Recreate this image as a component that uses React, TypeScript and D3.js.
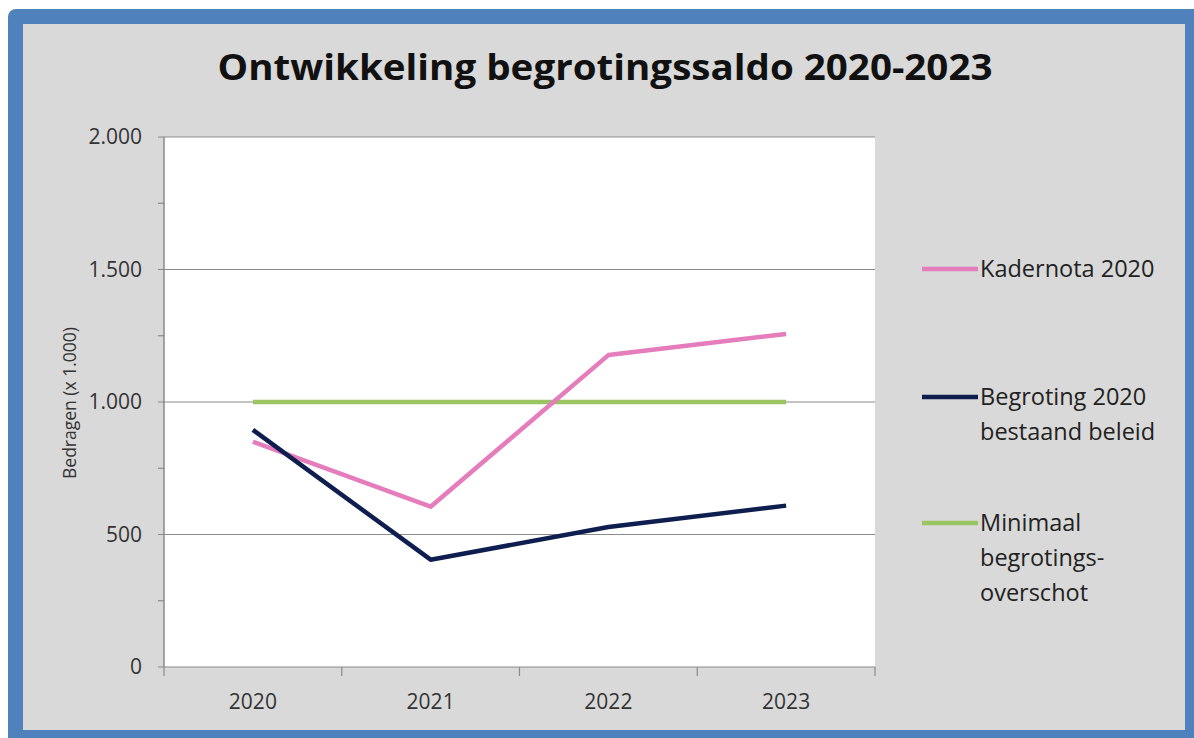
import React from "react";
import * as d3 from "d3";

const years = ["2020", "2021", "2022", "2023"];
const kadernota = [850, 605, 1177, 1257];
const begroting = [895, 405, 528, 609];
const minimaal = [1000, 1000, 1000, 1000];
const yTicks = [0, 500, 1000, 1500, 2000];
const yMinorTicks = [250, 750, 1250, 1750];
const seriesNames = [["Kadernota 2020"], ["Begroting 2020", "bestaand beleid"], ["Minimaal", "begrotings-", "overschot"]];
const seriesColors = ["#E57CBB", "#0E1E4E", "#9BC562"];
const title = "Ontwikkeling begrotingssaldo 2020-2023";
const yTitle = "Bedragen (x 1.000)";

const W = 1194, H = 738;
const plot = { left: 164, right: 875, top: 137, bottom: 667 };
const FONT = "'Open Sans', 'Noto Sans', sans-serif";

export default function App() {
  const x = d3.scaleBand<string>().domain(years).range([plot.left, plot.right]);
  const y = d3.scaleLinear().domain([0, 2000]).range([plot.bottom, plot.top]);
  const fmt = (v: number) => d3.format(",")(v).replace(/,/g, ".");
  const line = d3
    .line<number>()
    .x((_, i) => (x(years[i]) as number) + x.bandwidth() / 2)
    .y((d) => y(d));
  const series = [kadernota, begroting, minimaal];
  const drawOrder = [2, 0, 1];
  const legendY = [269, 397, 523];
  const boundaries = [...years.map((yr) => x(yr) as number), plot.right];

  return (
    <svg width={W} height={H} style={{ position: "absolute", left: 0, top: 0, background: "#fff" }}>
      <rect x={8} y={9} width={W} height={H} rx={8} fill="#4F81BD" />
      <rect x={23} y={24} width={1185 - 23} height={730 - 24} fill="#D9D9D9" />
      <text x={605} y={80} textAnchor="middle" fontFamily={FONT} fontWeight="bold" fontSize={36} fill="#111"
        textLength={775} lengthAdjust="spacingAndGlyphs">
        {title}
      </text>
      <rect x={plot.left} y={plot.top} width={plot.right - plot.left} height={plot.bottom - plot.top} fill="#fff" />
      {yTicks.map((t) => (
        <g key={t}>
          <line x1={158} x2={plot.right} y1={y(t)} y2={y(t)} stroke="#8A8A8A" strokeWidth={1.2} />
          <text x={142} y={y(t)} dy="0.35em" textAnchor="end" fontFamily={FONT} fontSize={21} fill="#333">
            {fmt(t)}
          </text>
        </g>
      ))}
      {yMinorTicks.map((t) => (
        <line key={t} x1={158} x2={plot.left} y1={y(t)} y2={y(t)} stroke="#8A8A8A" strokeWidth={1.2} />
      ))}
      <line x1={plot.left} x2={plot.left} y1={plot.top} y2={plot.bottom} stroke="#8A8A8A" strokeWidth={1.5} />
      {boundaries.map((b, i) => (
        <line key={i} x1={b} x2={b} y1={plot.bottom} y2={plot.bottom + 9} stroke="#8A8A8A" strokeWidth={1.2} />
      ))}
      {years.map((yr) => (
        <text key={yr} x={(x(yr) as number) + x.bandwidth() / 2} y={709} textAnchor="middle" fontFamily={FONT} fontSize={21} fill="#333">
          {yr}
        </text>
      ))}
      <text transform={`translate(76,403) rotate(-90)`} textAnchor="middle" fontFamily={FONT} fontSize={17.5} fill="#333">
        {yTitle}
      </text>
      {drawOrder.map((si) => (
        <path key={si} d={line(series[si]) as string} fill="none" stroke={seriesColors[si]} strokeWidth={4.5} strokeLinejoin="round" />
      ))}
      {seriesNames.map((names, si) => (
        <g key={si}>
          <line x1={922} x2={978} y1={legendY[si]} y2={legendY[si]} stroke={seriesColors[si]} strokeWidth={4.5} />
          {names.map((n, j) => (
            <text key={j} x={980} y={legendY[si] + j * 35} dy="0.35em" fontFamily={FONT} fontSize={23.5} fill="#222">
              {n}
            </text>
          ))}
        </g>
      ))}
    </svg>
  );
}
